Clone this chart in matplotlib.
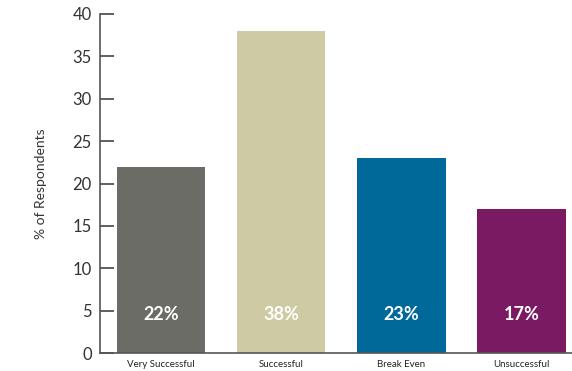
import matplotlib
matplotlib.use("Agg")
import matplotlib.pyplot as plt

categories = ["Very Successful", "Successful", "Break Even", "Unsuccessful"]
values = [22, 38, 23, 17]
labels = ["22%", "38%", "23%", "17%"]
colors = ["#6c6c66", "#cdcaa4", "#00699a", "#7a1a63"]
yticks = [0, 5, 10, 15, 20, 25, 30, 35, 40]

plt.rcParams['font.family'] = ['Lato', 'DejaVu Sans']

fig = plt.figure(figsize=(5.72, 3.71), dpi=100)
ax = fig.add_axes([100/572, 1-353/371, 472/572, (353-14)/371])

x = list(range(len(categories)))
ax.bar(x, values, width=0.735, color=colors, zorder=2)
for xi, lab in zip(x, labels):
    ax.text(xi, 4.6, lab, ha="center", va="center", color="white",
            fontsize=13, fontweight="bold")

ax.set_xlim(-0.51, 3.42)
ax.set_ylim(0, 40)
ax.set_yticks(yticks)
ax.set_xticks(x)
ax.set_xticklabels(categories, fontsize=7, color="#222222")
ax.tick_params(axis="x", length=0, pad=5)
ax.tick_params(axis="y", direction="in", length=10, width=1.2, color="#444444",
               labelsize=12, labelcolor="#333333", pad=6)
for s in ["top", "right"]:
    ax.spines[s].set_visible(False)
for s in ["left", "bottom"]:
    ax.spines[s].set_color("#555555")
    ax.spines[s].set_linewidth(1.2)
ax.set_ylabel("% of Respondents", fontsize=10, color="#333333", labelpad=18)

fig.savefig("out.png", dpi=100)
